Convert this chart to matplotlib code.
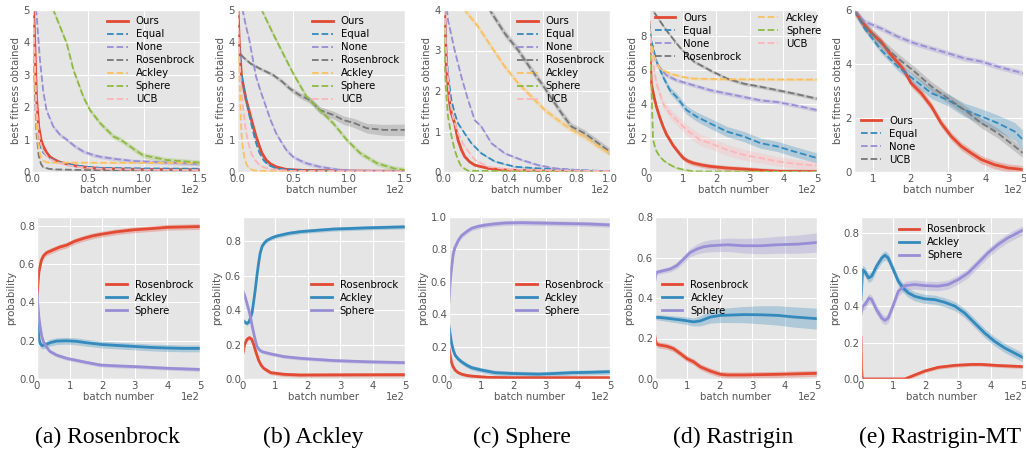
import numpy as np
import matplotlib.pyplot as plt

# ---- top row: best fitness obtained (x in batches, y = fitness) ----
# (x, y) pairs; band = half width of the shaded area
ros_ours = [(0, 6), (2, 4.5), (4, 2.3), (6, 1.4), (8, 1.0), (10, 0.8), (13, 0.6), (16, 0.47), (20, 0.38),
            (25, 0.3), (30, 0.26), (40, 0.18), (50, 0.14), (60, 0.11), (80, 0.09), (100, 0.08), (150, 0.07)]
ros_equal = [(0, 6), (2, 3.5), (4, 1.8), (6, 1.1), (8, 0.75), (10, 0.6), (13, 0.5), (16, 0.42), (20, 0.35),
             (30, 0.25), (40, 0.2), (50, 0.16), (60, 0.13), (80, 0.12), (100, 0.11), (150, 0.1)]
ros_none = [(0, 6), (4, 4.9), (7, 3.5), (10, 2.5), (13, 1.9), (19, 1.4), (25, 1.15), (31, 1.0), (38, 0.8),
            (46, 0.63), (55, 0.52), (61, 0.47), (75, 0.4), (90, 0.34), (120, 0.29), (150, 0.25)]
ros_ros = [(0, 6), (2, 3), (4, 1.2), (6, 0.5), (8, 0.25), (10, 0.15), (15, 0.1), (20, 0.08), (50, 0.06), (150, 0.05)]
ros_ack = [(0, 6), (2, 3.5), (4, 1.5), (6, 0.7), (8, 0.45), (10, 0.35), (13, 0.3), (20, 0.29), (150, 0.28)]
ros_sph = [(0, 9), (10, 7), (15, 5.6), (19, 5.0), (31, 3.97), (37, 3.15), (46, 2.3), (52, 1.9), (61, 1.5),
           (73, 1.09), (79, 1.0), (90, 0.73), (99, 0.52), (120, 0.37), (150, 0.29)]
ros_ucb = [(0, 6), (2, 4), (4, 2.0), (6, 1.2), (8, 0.85), (10, 0.65), (13, 0.5), (16, 0.4), (20, 0.33),
           (30, 0.22), (40, 0.16), (60, 0.1), (100, 0.07), (150, 0.06)]
ros_bands = [0.03, 0.02, 0.06, 0.02, 0.02, 0.08, 0.02]

ack_ours = [(0, 6), (1, 5), (2, 4.0), (4, 2.95), (8, 2.25), (13, 1.6), (17, 1.1), (20, 0.8), (22, 0.6),
            (26, 0.37), (30, 0.25), (35, 0.16), (44, 0.08), (60, 0.05), (100, 0.03), (150, 0.02)]
ack_equal = [(0, 6), (1, 4.5), (3, 3.3), (6, 2.6), (10, 1.9), (14, 1.3), (17, 0.9), (20, 0.6), (24, 0.35),
             (28, 0.22), (33, 0.14), (40, 0.09), (60, 0.05), (100, 0.03), (150, 0.02)]
ack_none = [(0, 8), (5, 5), (8, 4.5), (11, 4.07), (14, 3.5), (17, 2.94), (21, 2.5), (26, 2.0), (30, 1.6),
            (35, 1.19), (40, 0.9), (44, 0.68), (50, 0.47), (56, 0.36), (62, 0.27), (74, 0.16), (92, 0.06),
            (110, 0.03), (150, 0.02)]
ack_ros = [(0, 4.2), (2, 3.7), (5, 3.56), (12, 3.35), (20, 3.2), (32, 3.0), (40, 2.8), (47, 2.58), (56, 2.37),
           (65, 2.22), (74, 1.91), (86, 1.76), (95, 1.6), (104, 1.52), (116, 1.35), (131, 1.3), (150, 1.3)]
ack_ack = [(0, 6), (1, 4.5), (2, 3.2), (3, 2.0), (4, 1.2), (5, 0.8), (7, 0.37), (9, 0.2), (11, 0.11),
           (15, 0.05), (30, 0.02), (150, 0.01)]
ack_sph = [(0, 9), (10, 7), (22, 5), (32, 4.28), (41, 3.66), (50, 3.05), (62, 2.33), (74, 1.91), (86, 1.5),
           (98, 0.99), (110, 0.58), (125, 0.27), (140, 0.11), (150, 0.06)]
ack_ucb = [(0, 6), (1, 4.5), (3, 3.0), (5, 2.1), (8, 1.25), (11, 0.78), (13, 0.55), (16, 0.37), (20, 0.22),
           (23, 0.16), (30, 0.08), (50, 0.03), (150, 0.02)]
ack_bands = [0.04, 0.03, 0.06, [0.05, 0.05, 0.05, 0.05, 0.05, 0.06, 0.07, 0.08, 0.09, 0.1, 0.11, 0.12, 0.13,
                                0.14, 0.15, 0.17, 0.18], 0.02, 0.08, 0.03]

sph_ours = [(0, 5), (1, 4), (2, 2.6), (4, 1.7), (5, 1.45), (7, 1.2), (9, 0.79), (11, 0.55), (13, 0.38),
            (16, 0.25), (19, 0.17), (27, 0.09), (37, 0.05), (60, 0.02), (100, 0.01)]
sph_equal = [(0, 5), (1, 4), (2, 3.0), (3, 2.4), (5, 1.78), (7, 1.45), (9, 1.2), (13, 0.95), (17, 0.71),
             (23, 0.46), (31, 0.26), (43, 0.13), (57, 0.09), (77, 0.05), (100, 0.02)]
sph_none = [(0, 5), (3, 3.75), (7, 3.0), (11, 2.35), (15, 1.78), (19, 1.28), (23, 1.12), (29, 0.71),
            (37, 0.46), (47, 0.3), (57, 0.17), (67, 0.09), (87, 0.03), (100, 0.02)]
sph_ros = [(0, 8), (15, 5.3), (28, 4.0), (37, 3.42), (45, 3.01), (53, 2.52), (59, 2.19), (63, 1.94),
           (71, 1.45), (77, 1.12), (85, 0.95), (93, 0.71), (100, 0.5)]
sph_ack = [(0, 5.5), (13, 4.0), (21, 3.59), (29, 3.09), (37, 2.6), (45, 2.19), (53, 1.86), (61, 1.53),
           (69, 1.28), (77, 1.04), (85, 0.87), (93, 0.63), (100, 0.46)]
sph_sph = [(0, 5), (1, 2.6), (2, 1.9), (3, 1.37), (5, 0.9), (7, 0.54), (9, 0.3), (11, 0.13), (15, 0.03), (100, 0.0)]
sph_ucb = [(0, 5), (1, 4), (2, 2.8), (4, 1.8), (6, 1.35), (9, 0.95), (13, 0.63), (19, 0.3), (27, 0.13),
           (40, 0.06), (100, 0.02)]
sph_bands = [0.02, 0.02, 0.03, 0.09, 0.07, 0.01, 0.02]

ras_ours = [(0, 8.8), (3, 7), (7, 5.2), (15, 4.4), (22, 3.83), (32, 3.2), (42, 2.66), (52, 2.2), (62, 1.88),
            (72, 1.55), (82, 1.3), (92, 1.05), (102, 0.82), (115, 0.65), (132, 0.52), (160, 0.4), (182, 0.33),
            (232, 0.23), (282, 0.17), (332, 0.1), (382, 0.04), (500, 0.02)]
ras_equal = [(0, 8.8), (7, 7.7), (22, 6.5), (42, 5.57), (62, 4.8), (82, 4.4), (112, 3.63), (142, 3.24),
             (182, 2.85), (232, 2.37), (282, 2.08), (332, 1.69), (382, 1.5), (432, 1.2), (500, 0.82)]
ras_none = [(0, 8.5), (7, 7.5), (22, 6.35), (52, 5.67), (82, 5.38), (132, 5.09), (182, 4.8), (232, 4.6),
            (282, 4.4), (332, 4.2), (382, 4.1), (432, 3.92), (500, 3.63)]
ras_ros = [(0, 9.8), (12, 9.45), (52, 8.3), (92, 7.3), (132, 6.5), (182, 5.96), (232, 5.48), (282, 5.18),
           (332, 5.0), (382, 4.8), (432, 4.6), (500, 4.3)]
ras_ack = [(0, 8.5), (10, 7.2), (20, 6.5), (32, 6.06), (62, 5.77), (102, 5.57), (132, 5.48), (232, 5.44), (500, 5.42)]
ras_sph = [(0, 8), (5, 6.5), (8, 4.5), (12, 1.9), (20, 1.3), (32, 0.9), (45, 0.65), (62, 0.43), (80, 0.25),
           (102, 0.14), (132, 0.04), (500, 0.0)]
ras_ucb = [(0, 8.5), (7, 7.0), (22, 5.2), (42, 4.0), (62, 3.44), (82, 3.05), (112, 2.47), (152, 1.88),
           (182, 1.69), (232, 1.3), (282, 1.0), (332, 0.82), (382, 0.62), (442, 0.47), (500, 0.37)]
ras_bands = [0.15, [0.1, 0.12, 0.15, 0.17, 0.2, 0.22, 0.25, 0.27, 0.3, 0.3, 0.3, 0.3, 0.3, 0.3, 0.3],
             0.12, 0.1, 0.08, 0.05, [0.1, 0.15, 0.2, 0.25, 0.28, 0.3, 0.32, 0.33, 0.33, 0.33, 0.32, 0.3, 0.28,
                                     0.26, 0.25]]

mt_ours = [(50, 6.0), (78, 5.44), (100, 5.1), (122, 4.83), (149, 4.33), (176, 3.9), (190, 3.6), (202, 3.29),
           (229, 2.92), (256, 2.43), (282, 1.81), (309, 1.32), (336, 0.95), (362, 0.7), (389, 0.46),
           (424, 0.27), (460, 0.15), (500, 0.09)]
mt_equal = [(50, 6.0), (78, 5.32), (122, 4.52), (167, 3.9), (211, 3.41), (256, 2.92), (300, 2.67),
            (344, 2.3), (389, 2.06), (433, 1.81), (478, 1.5), (500, 1.19)]
mt_none = [(50, 6.0), (78, 5.57), (122, 5.32), (167, 5.01), (211, 4.77), (256, 4.58), (300, 4.4),
           (344, 4.21), (389, 4.09), (433, 3.9), (500, 3.66)]
mt_ucb = [(50, 6.0), (78, 5.4), (100, 5.1), (122, 4.77), (167, 4.21), (211, 3.72), (256, 3.17), (300, 2.73),
          (344, 2.3), (389, 1.81), (433, 1.44), (478, 0.95), (500, 0.7)]
mt_bands = [0.15, [0.08, 0.1, 0.12, 0.15, 0.18, 0.2, 0.22, 0.25, 0.28, 0.3, 0.33, 0.35], 0.1, 0.18]

top_names = ["Ours", "Equal", "None", "Rosenbrock", "Ackley", "Sphere", "UCB"]
mt_names = ["Ours", "Equal", "None", "UCB"]

# ---- bottom row: probability of each source task ----
prob_names = ["Rosenbrock", "Ackley", "Sphere"]

pa_ros = [(0, 0.4), (3, 0.5), (6, 0.56), (13, 0.62), (20, 0.645), (29, 0.66), (49, 0.675), (70, 0.69),
          (91, 0.7), (115, 0.72), (142, 0.735), (170, 0.748), (194, 0.756), (245, 0.77), (297, 0.78),
          (348, 0.786), (400, 0.793), (500, 0.797)]
pa_ack = [(0, 0.33), (3, 0.27), (6, 0.21), (10, 0.185), (15, 0.175), (25, 0.178), (40, 0.19), (60, 0.198),
          (90, 0.2), (120, 0.197), (150, 0.19), (200, 0.18), (250, 0.175), (300, 0.17), (350, 0.165),
          (400, 0.162), (450, 0.16), (500, 0.16)]
pa_sph = [(0, 0.45), (3, 0.38), (6, 0.32), (10, 0.27), (15, 0.22), (20, 0.195), (30, 0.165), (39, 0.145),
          (60, 0.125), (91, 0.108), (142, 0.09), (194, 0.073), (250, 0.068), (297, 0.065), (400, 0.056),
          (500, 0.05)]
pa_bands = [0.015, 0.018, 0.01]

pb_ros = [(0, 0.15), (5, 0.2), (12, 0.23), (20, 0.24), (27, 0.23), (33, 0.2), (40, 0.155), (48, 0.11),
          (56, 0.08), (64, 0.062), (85, 0.037), (126, 0.027), (177, 0.023), (300, 0.024), (500, 0.025)]
pb_ack = [(0, 0.34), (6, 0.33), (12, 0.322), (18, 0.33), (24, 0.36), (28, 0.385), (33, 0.45), (38, 0.52),
          (43, 0.6), (48, 0.67), (53, 0.73), (59, 0.77), (66, 0.79), (74, 0.805), (90, 0.82), (105, 0.83),
          (140, 0.845), (177, 0.855), (230, 0.863), (280, 0.87), (384, 0.877), (500, 0.883)]
pb_sph = [(0, 0.51), (6, 0.48), (12, 0.44), (18, 0.4), (23, 0.36), (28, 0.31), (33, 0.266), (38, 0.225),
          (43, 0.19), (50, 0.17), (59, 0.158), (85, 0.146), (126, 0.13), (177, 0.12), (280, 0.107),
          (384, 0.1), (500, 0.095)]
pb_bands = [0.012, 0.012, 0.01]

pc_ros = [(0, 0.19), (4, 0.14), (8, 0.1), (13, 0.075), (19, 0.055), (28, 0.04), (39, 0.03), (55, 0.022),
          (70, 0.018), (122, 0.01), (200, 0.008), (500, 0.008)]
pc_ack = [(0, 0.33), (4, 0.27), (8, 0.22), (13, 0.18), (19, 0.147), (28, 0.125), (39, 0.106), (55, 0.085),
          (70, 0.07), (101, 0.055), (143, 0.039), (195, 0.034), (277, 0.03), (329, 0.034), (381, 0.039),
          (432, 0.041), (500, 0.045)]
pc_sph = [(0, 0.48), (3, 0.58), (6, 0.65), (10, 0.72), (13, 0.77), (18, 0.81), (24, 0.835), (30, 0.86),
          (39, 0.885), (55, 0.91), (70, 0.93), (90, 0.942), (112, 0.95), (140, 0.957), (174, 0.963),
          (226, 0.965), (277, 0.963), (329, 0.961), (381, 0.959), (432, 0.957), (500, 0.951)]
pc_bands = [0.01, 0.015, 0.015]

pd_ros = [(0, 0.21), (3, 0.18), (8, 0.17), (16, 0.167), (36, 0.162), (57, 0.15), (78, 0.126), (99, 0.1),
          (119, 0.085), (140, 0.06), (171, 0.039), (202, 0.023), (223, 0.02), (275, 0.02), (379, 0.023),
          (500, 0.028)]
pd_ack = [(0, 0.305), (20, 0.303), (47, 0.298), (88, 0.29), (119, 0.282), (140, 0.287), (171, 0.306),
          (202, 0.314), (275, 0.318), (330, 0.317), (379, 0.314), (430, 0.306), (500, 0.298)]
pd_sph = [(0, 0.49), (3, 0.52), (5, 0.527), (26, 0.535), (47, 0.543), (67, 0.56), (88, 0.592), (109, 0.625),
          (130, 0.642), (150, 0.653), (171, 0.658), (223, 0.663), (275, 0.658), (327, 0.658), (379, 0.663),
          (441, 0.666), (500, 0.674)]
pd_bands = [0.015, [0.012, 0.014, 0.016, 0.018, 0.02, 0.025, 0.03, 0.035, 0.04, 0.045, 0.048, 0.05, 0.052],
            [0.012, 0.012, 0.012, 0.013, 0.014, 0.016, 0.018, 0.02, 0.025, 0.028, 0.03, 0.033, 0.036, 0.04,
             0.042, 0.045, 0.048]]

pe_ros = [(0, 0.23), (2, 0.05), (4, 0.0), (135, 0.0), (166, 0.022), (197, 0.044), (238, 0.064), (290, 0.075),
          (341, 0.08), (372, 0.08), (423, 0.074), (500, 0.068)]
pe_ack = [(0, 0.436), (5, 0.6), (12, 0.59), (23, 0.555), (33, 0.565), (48, 0.62), (64, 0.665), (74, 0.68),
          (84, 0.665), (100, 0.6), (115, 0.537), (130, 0.5), (146, 0.473), (166, 0.454), (197, 0.44),
          (228, 0.436), (259, 0.421), (290, 0.4), (320, 0.362), (351, 0.307), (382, 0.252), (413, 0.206),
          (444, 0.17), (474, 0.142), (500, 0.118)]
pe_sph = [(0, 0.36), (5, 0.4), (12, 0.408), (25, 0.445), (33, 0.436), (48, 0.38), (64, 0.335), (74, 0.322),
          (84, 0.335), (100, 0.408), (115, 0.482), (136, 0.513), (166, 0.519), (197, 0.513), (238, 0.51),
          (269, 0.519), (300, 0.546), (331, 0.583), (362, 0.638), (392, 0.693), (423, 0.739), (454, 0.776),
          (500, 0.818)]
pe_bands = [0.01, 0.025, 0.025]

captions = ["(a) Rosenbrock", "(b) Ackley", "(c) Sphere", "(d) Rastrigin", "(e) Rastrigin-MT"]

plt.style.use('ggplot')
plt.rcParams.update({'font.size': 7.3, 'axes.labelsize': 7.3, 'xtick.labelsize': 7.3,
                     'ytick.labelsize': 7.3, 'legend.fontsize': 7.3,
                     'xtick.major.pad': 1.5, 'ytick.major.pad': 1.5,
                     'xtick.major.size': 0, 'ytick.major.size': 0})
colors = plt.rcParams['axes.prop_cycle'].by_key()['color']

W, H = 1026, 450
fig = plt.figure(figsize=(W / 100, H / 100), dpi=100)


def px_axes(l, t, r, b):
    return fig.add_axes([l / W, 1 - b / H, (r - l) / W, (b - t) / H])


def draw(ax, series, bands, names, dashed_after_first):
    for i, (pts, band, name) in enumerate(zip(series, bands, names)):
        arr = np.array(pts, dtype=float)
        x, y = arr[:, 0], arr[:, 1]
        b = np.broadcast_to(np.asarray(band, dtype=float), y.shape)
        c = colors[i]
        ls = '-' if (i == 0 or not dashed_after_first) else '--'
        lw = 2.0 if ls == '-' else 1.3
        ax.fill_between(x, y - b, y + b, color=c, alpha=0.3, lw=0)
        ax.plot(x, y, ls=ls, color=c, lw=lw, label=name)


def finish(ax, xlim, ylim, yticks, ylabel):
    ax.set_xlim(*xlim)
    ax.set_ylim(*ylim)
    ax.set_yticks(yticks)
    ax.ticklabel_format(axis='x', style='sci', scilimits=(0, 0))
    ax.xaxis.get_offset_text().set_visible(False)
    ax.set_xlabel('batch number', labelpad=1)
    ax.set_ylabel(ylabel, labelpad=2)
    # the "1e2" multiplier sits on the same line as the axis label
    ax.text(1.0, -0.112, '1e2', transform=ax.transAxes, ha='right', va='center',
            fontsize=7.3, color='#555555')


top_rects = [(32, 10, 200, 172), (237, 10, 405, 172), (443, 10, 610, 172), (649, 10, 817, 172),
             (854, 10, 1023, 172)]
bot_rects = [(37, 217, 200, 379), (243, 217, 405, 379), (449, 217, 610, 379), (655, 217, 817, 379),
             (861, 217, 1023, 379)]

top_series = [
    ([ros_ours, ros_equal, ros_none, ros_ros, ros_ack, ros_sph, ros_ucb], ros_bands, top_names,
     (0, 150), (0, 5), [0, 1, 2, 3, 4, 5]),
    ([ack_ours, ack_equal, ack_none, ack_ros, ack_ack, ack_sph, ack_ucb], ack_bands, top_names,
     (0, 150), (0, 5), [0, 1, 2, 3, 4, 5]),
    ([sph_ours, sph_equal, sph_none, sph_ros, sph_ack, sph_sph, sph_ucb], sph_bands, top_names,
     (0, 100), (0, 4), [0, 1, 2, 3, 4]),
    ([ras_ours, ras_equal, ras_none, ras_ros, ras_ack, ras_sph, ras_ucb], ras_bands, top_names,
     (0, 500), (0, 9.5), [0, 2, 4, 6, 8]),
    ([mt_ours, mt_equal, mt_none, mt_ucb], mt_bands, mt_names,
     (50, 500), (0, 6), [0, 2, 4, 6]),
]

for k, (series, bands, names, xl, yl, yt) in enumerate(top_series):
    ax = px_axes(*top_rects[k])
    draw(ax, series, bands, names, True)
    finish(ax, xl, yl, yt, 'best fitness obtained')
    if k < 3:
        ax.legend(loc='upper right', frameon=False, labelspacing=0.3, borderaxespad=0.2)
    elif k == 3:
        ax.legend(loc='upper left', frameon=False, ncol=2, labelspacing=0.3, columnspacing=1.6,
                  borderaxespad=0.2, bbox_to_anchor=(0.0, 1.02))
    else:
        ax.legend(loc='lower left', frameon=False, labelspacing=0.3, borderaxespad=0.3)

bot_series = [
    ([pa_ros, pa_ack, pa_sph], pa_bands, (0, 0.847), [0, 0.2, 0.4, 0.6, 0.8], 'center right'),
    ([pb_ros, pb_ack, pb_sph], pb_bands, (0, 0.94), [0, 0.2, 0.4, 0.6, 0.8], 'center right'),
    ([pc_ros, pc_ack, pc_sph], pc_bands, (0, 1.0), [0, 0.2, 0.4, 0.6, 0.8, 1.0], 'center right'),
    ([pd_ros, pd_ack, pd_sph], pd_bands, (0, 0.8), [0, 0.2, 0.4, 0.6, 0.8], 'center left'),
    ([pe_ros, pe_ack, pe_sph], pe_bands, (0, 0.89), [0, 0.2, 0.4, 0.6, 0.8], 'upper center'),
]

for k, (series, bands, yl, yt, loc) in enumerate(bot_series):
    ax = px_axes(*bot_rects[k])
    draw(ax, series, bands, prob_names, False)
    finish(ax, (0, 500), yl, yt, 'probability')
    ax.set_yticklabels(['%.1f' % t for t in yt])
    ax.legend(loc=loc, frameon=False, labelspacing=0.3, borderaxespad=0.3)

cap_x = [107, 313, 522, 733, 940]
for cx, txt in zip(cap_x, captions):
    fig.text(cx / W, 1 - 437 / H, txt, ha='center', va='center', fontsize=17,
             family='Liberation Serif', color='black')

fig.savefig('out.png', dpi=100, facecolor='white')
